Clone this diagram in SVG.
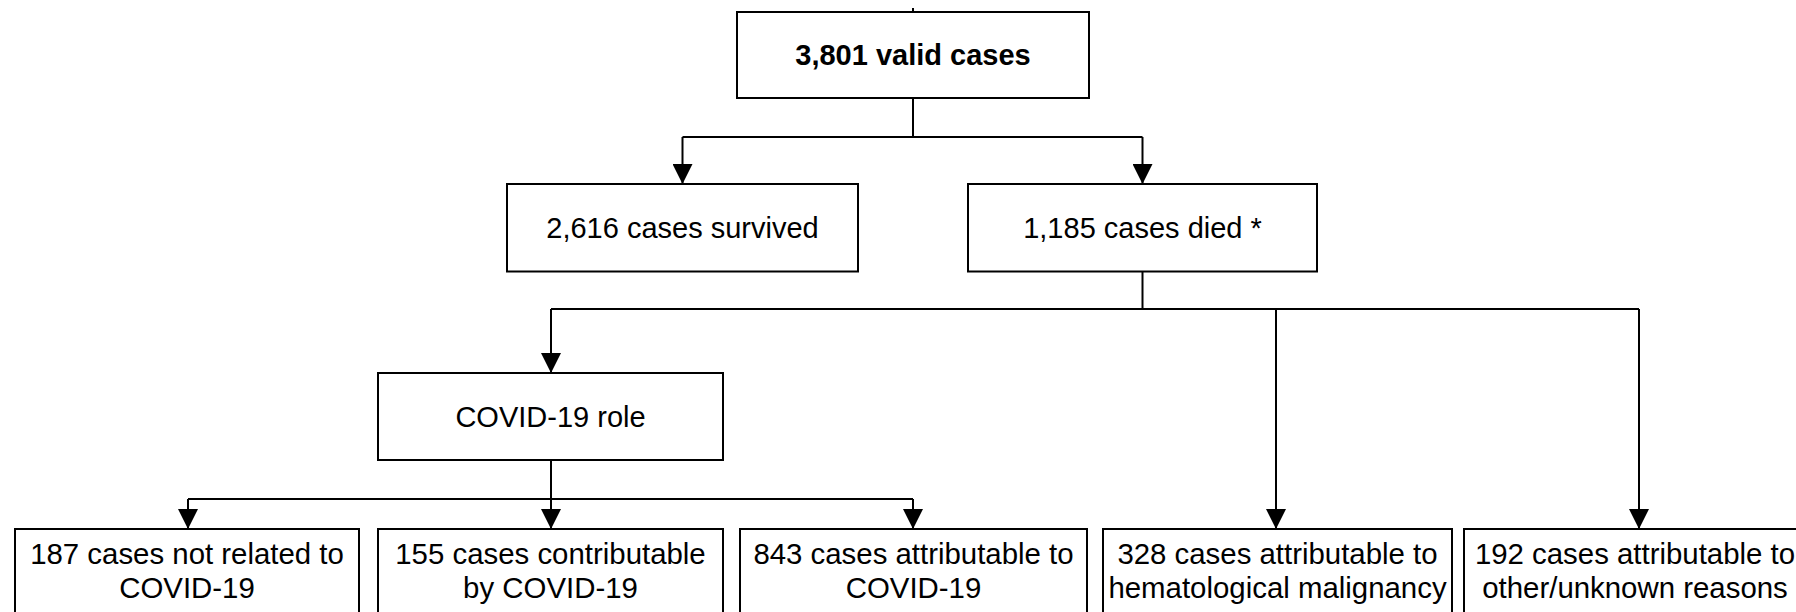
<svg xmlns="http://www.w3.org/2000/svg" width="1796" height="612" viewBox="0 0 1796 612">
<defs>
<marker id="arr" viewBox="0 0 20 20" refX="20" refY="10" markerWidth="20" markerHeight="20" markerUnits="userSpaceOnUse" orient="auto">
<path d="M0,0 L20,10 L0,20 z" fill="#000"/>
</marker>
<style>
.box{fill:#fff;stroke:#000;stroke-width:2}
.t{font-family:"Liberation Sans",Arial,sans-serif;font-size:29px;fill:#000;text-anchor:middle}
.s{font-size:29.4px}
.b{font-weight:bold}
.c{fill:none;stroke:#000;stroke-width:2}
.a{fill:none;stroke:#000;stroke-width:2;marker-end:url(#arr)}
</style>
</defs>
<rect width="1796" height="612" fill="#fff"/>
<g id="connectors">
<line class="c" x1="913" y1="8" x2="913" y2="12"/>
<path class="c" d="M913,98 V137"/>
<path class="c" d="M682.5,137 H1142.5"/>
<path class="a" d="M682.5,137 V184"/>
<path class="a" d="M1142.5,137 V184"/>
<path class="c" d="M1142.5,271.5 V309"/>
<path class="c" d="M551,309 H1639"/>
<path class="a" d="M551,309 V373"/>
<path class="a" d="M1276,309 V529"/>
<path class="a" d="M1639,309 V529"/>
<path class="c" d="M551,460 V499"/>
<path class="c" d="M188,499 H913"/>
<path class="a" d="M188,499 V529"/>
<path class="a" d="M551,499 V529"/>
<path class="a" d="M913,499 V529"/>
</g>
<g id="valid">
<rect class="box" x="737" y="12" width="352" height="86"/>
<text class="t b" x="913" y="65">3,801 valid cases</text>
</g>
<g id="survived">
<rect class="box" x="507" y="184" width="351" height="87.5"/>
<text class="t" x="682.5" y="237.5">2,616 cases survived</text>
</g>
<g id="died">
<rect class="box" x="968" y="184" width="349" height="87.5"/>
<text class="t" x="1142.5" y="237.5">1,185 cases died *</text>
</g>
<g id="role">
<rect class="box" x="378" y="373" width="345" height="87"/>
<text class="t" x="550.5" y="427">COVID-19 role</text>
</g>
<g id="notrelated">
<rect class="box" x="15" y="529" width="344" height="100"/>
<text class="t s" x="187" y="564">187 cases not related to</text>
<text class="t s" x="187" y="597.5">COVID-19</text>
</g>
<g id="contributable">
<rect class="box" x="378" y="529" width="345" height="100"/>
<text class="t s" x="550.5" y="564">155 cases contributable</text>
<text class="t s" x="550.5" y="597.5">by COVID-19</text>
</g>
<g id="attributable">
<rect class="box" x="740" y="529" width="347" height="100"/>
<text class="t s" x="913.5" y="564">843 cases attributable to</text>
<text class="t s" x="913.5" y="597.5">COVID-19</text>
</g>
<g id="hemato">
<rect class="box" x="1103" y="529" width="349" height="100"/>
<text class="t s" x="1277.5" y="564">328 cases attributable to</text>
<text class="t s" x="1277.5" y="597.5">hematological malignancy</text>
</g>
<g id="other">
<rect class="box" x="1464" y="529" width="360" height="100"/>
<text class="t s" x="1635" y="564">192 cases attributable to</text>
<text class="t s" x="1635" y="597.5">other/unknown reasons</text>
</g>
</svg>
